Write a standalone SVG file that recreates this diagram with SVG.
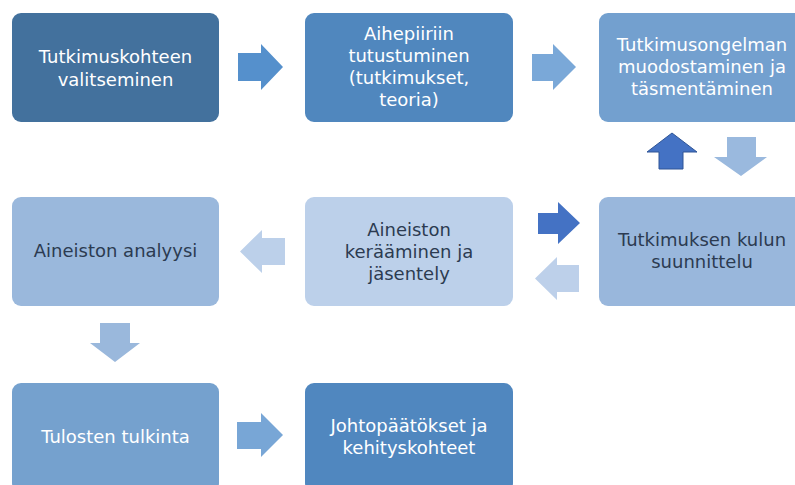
<svg xmlns="http://www.w3.org/2000/svg" width="795" height="485" viewBox="0 0 795 485">
<style>
  text { font-family: "DejaVu Sans", "Noto Sans", sans-serif; font-size: 18px; text-anchor: middle; }
  .lt { fill: #ffffff; }
  .dk { fill: #2c3b51; }
  .box { stroke: none; }
</style>
<rect width="795" height="485" fill="#ffffff"/>
<g id="connectors">
  <polygon points="238,53 261,53 261,44 283,67 261,90 261,81 238,81" fill="#5590cc"/>
  <polygon points="532,54 553,54 553,44 576,67 553,90 553,81 532,81" fill="#7aa8d8"/>
  <polygon points="659,169 683,169 683,152 697,152 672,133 647,152 659,152" fill="#4472c4" stroke="#2f5597" stroke-width="1"/>
  <polygon points="727,137 756,137 756,157 767,157 741,176 714,157 727,157" fill="#9ab9de"/>
  <polygon points="538,213 558,213 558,202 580,223 558,244 558,234 538,234" fill="#4472c4"/>
  <polygon points="579,265 557,265 557,257 535,278.5 557,300 557,292 579,292" fill="#bdd0ea"/>
  <polygon points="285,238 262,238 262,230 240,251.5 262,273 262,265 285,265" fill="#bcd0ea"/>
  <polygon points="100,323 130,323 130,343 140,343 115,362 90,343 100,343" fill="#9ab8dc"/>
  <polygon points="237,422 261,422 261,413 283,435 261,457 261,449 237,449" fill="#78a6d6"/>
</g>
<g id="n1">
  <rect class="box" x="12" y="13" width="207" height="109" rx="9" fill="#43719d"/>
  <text class="lt" x="115.5" y="63">Tutkimuskohteen</text>
  <text class="lt" x="115.5" y="86">valitseminen</text>
</g>
<g id="n2">
  <rect class="box" x="305" y="13" width="208" height="109" rx="9" fill="#5087be"/>
  <text class="lt" x="409" y="40">Aihepiiriin</text>
  <text class="lt" x="409" y="62">tutustuminen</text>
  <text class="lt" x="409" y="84">(tutkimukset,</text>
  <text class="lt" x="409" y="106">teoria)</text>
</g>
<g id="n3">
  <rect class="box" x="599" y="13" width="207" height="109" rx="9" fill="#73a0cf"/>
  <text class="lt" x="702" y="51">Tutkimusongelman</text>
  <text class="lt" x="702" y="73">muodostaminen ja</text>
  <text class="lt" x="702" y="95">täsmentäminen</text>
</g>
<g id="n4">
  <rect class="box" x="599" y="197" width="207" height="109" rx="9" fill="#99b7dc"/>
  <text class="dk" x="702" y="246">Tutkimuksen kulun</text>
  <text class="dk" x="702" y="268">suunnittelu</text>
</g>
<g id="n5">
  <rect class="box" x="305" y="197" width="208" height="109" rx="9" fill="#bcd0ea"/>
  <text class="dk" x="409" y="236">Aineiston</text>
  <text class="dk" x="409" y="258">kerääminen ja</text>
  <text class="dk" x="409" y="280">jäsentely</text>
</g>
<g id="n6">
  <rect class="box" x="12" y="197" width="207" height="109" rx="9" fill="#9ab8dc"/>
  <text class="dk" x="115.5" y="257">Aineiston analyysi</text>
</g>
<g id="n7">
  <rect class="box" x="12" y="383" width="207" height="109" rx="9" fill="#75a1ce"/>
  <text class="lt" x="115.5" y="443">Tulosten tulkinta</text>
</g>
<g id="n8">
  <rect class="box" x="305" y="383" width="208" height="109" rx="9" fill="#5087bf"/>
  <text class="lt" x="409" y="432">Johtopäätökset ja</text>
  <text class="lt" x="409" y="454">kehityskohteet</text>
</g>
</svg>
